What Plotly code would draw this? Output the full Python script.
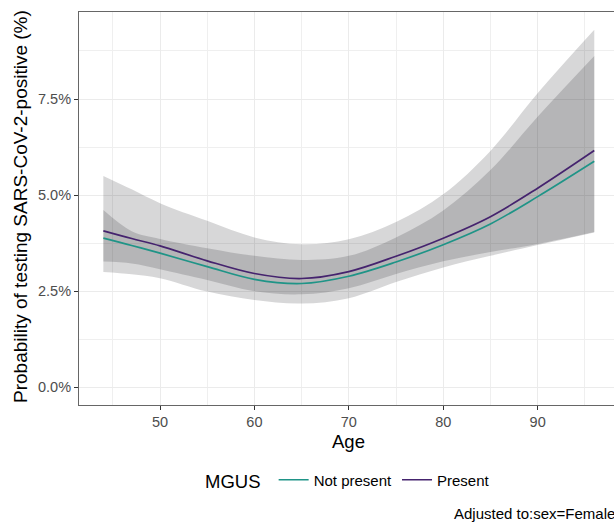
import plotly.graph_objects as go

# ---- data ----
age = [44, 47, 50, 55, 60, 65, 70, 75, 80, 85, 90, 96]

# predicted probability (%)
not_present = [3.88, 3.69, 3.49, 3.14, 2.81, 2.70, 2.89, 3.26, 3.71, 4.25, 4.96, 5.88]
present     = [4.07, 3.87, 3.68, 3.29, 2.96, 2.83, 3.01, 3.41, 3.88, 4.44, 5.18, 6.16]

# confidence bands (%)
not_present_lo = [3.27, 3.22, 3.07, 2.79, 2.50, 2.42, 2.58, 2.95, 3.28, 3.52, 3.73, 4.04]
not_present_hi = [4.61, 4.06, 3.86, 3.62, 3.42, 3.31, 3.42, 3.90, 4.60, 5.65, 7.04, 8.62]
present_lo     = [3.00, 2.94, 2.84, 2.49, 2.27, 2.18, 2.32, 2.74, 3.12, 3.42, 3.70, 4.03]
present_hi     = [5.50, 5.15, 4.79, 4.33, 3.90, 3.72, 3.85, 4.30, 5.02, 6.15, 7.65, 9.30]

x_ticks = [50, 60, 70, 80, 90]
y_ticks = [0.0, 2.5, 5.0, 7.5]
y_tick_labels = ["0.0%", "2.5%", "5.0%", "7.5%"]

group_names = ["Not present", "Present"]
line_colors = ["#1f9487", "#45236e"]
ribbon_fill = "rgba(10,12,20,0.165)"

FONT = "Liberation Sans, Arial, Helvetica, sans-serif"

fig = go.Figure()

# ribbons
for lo, hi in [(present_lo, present_hi), (not_present_lo, not_present_hi)]:
    fig.add_trace(go.Scatter(x=age, y=lo, mode="lines", line=dict(width=0, shape="spline", smoothing=1),
                             showlegend=False, hoverinfo="skip"))
    fig.add_trace(go.Scatter(x=age, y=hi, mode="lines", line=dict(width=0, shape="spline", smoothing=1),
                             fill="tonexty", fillcolor=ribbon_fill, showlegend=False, hoverinfo="skip"))

# lines
for name, vals, col in zip(group_names, [not_present, present], line_colors):
    fig.add_trace(go.Scatter(x=age, y=vals, mode="lines", name=name,
                             line=dict(color=col, width=1.7, shape="spline", smoothing=1)))

# layout geometry (pixels)
W, H = 614, 524
L, R, T, B = 79, 0, 12, 119
pw, ph = W - L - R, H - T - B

def px_x(p):
    return (p - L) / pw

def px_y(p):
    return (H - B - p) / ph

grid = "#ebebeb"

fig.update_layout(
    width=W, height=H,
    margin=dict(l=L, r=R, t=T, b=B, pad=0, autoexpand=False),
    paper_bgcolor="white", plot_bgcolor="white",
    font=dict(family=FONT, color="black"),
    showlegend=True,
    legend=dict(
        orientation="h",
        traceorder="normal",
        x=px_x(349), xanchor="center",
        y=px_y(481), yanchor="middle",
        title=dict(text="MGUS ", font=dict(size=18.5, color="black"), side="left"),
        font=dict(size=15, color="black"),
        itemwidth=30,
        bgcolor="rgba(0,0,0,0)",
    ),
    xaxis=dict(
        range=[41.42, 98.09], automargin=False,
        tickvals=x_ticks, ticktext=[str(v) for v in x_ticks],
        ticks="outside", ticklen=4, tickwidth=1, tickcolor="#333333",
        tickfont=dict(size=14.5, color="#4d4d4d"),
        showgrid=True, gridcolor=grid, gridwidth=1.1,
        minor=dict(tickvals=[45, 55, 65, 75, 85, 95], showgrid=True, gridcolor="#efefef", gridwidth=0.7),
        showline=True, linecolor="#666666", linewidth=1, mirror=True,
        zeroline=False, fixedrange=True,
    ),
    yaxis=dict(
        range=[-0.46, 9.763], automargin=False,
        tickvals=y_ticks, ticktext=y_tick_labels,
        ticks="outside", ticklen=4, tickwidth=1, tickcolor="#333333",
        tickfont=dict(size=14.5, color="#4d4d4d"),
        showgrid=True, gridcolor=grid, gridwidth=1.1,
        minor=dict(tickvals=[1.25, 3.75, 6.25, 8.75], showgrid=True, gridcolor="#efefef", gridwidth=0.7),
        showline=True, linecolor="#666666", linewidth=1, mirror=False,
        zeroline=False, fixedrange=True,
    ),
    annotations=[
        dict(text="Probability of testing SARS-CoV-2-positive (%)", textangle=-90,
             x=px_x(20), y=px_y(207), xref="paper", yref="paper", xanchor="center", yanchor="middle",
             showarrow=False, font=dict(size=19, color="black")),
        dict(text="Age", x=px_x(349), y=px_y(441), xref="paper", yref="paper",
             xanchor="center", yanchor="middle", showarrow=False, font=dict(size=18.5, color="black")),
        dict(text="Adjusted to:sex=Female", x=px_x(617), y=px_y(513), xref="paper", yref="paper",
             xanchor="right", yanchor="middle", showarrow=False, font=dict(size=15, color="black")),
    ],
)

fig.write_html(
    "out.html",
    config={"displayModeBar": False},
    post_script="document.body.style.margin='0';document.body.style.overflow='hidden';",
)
